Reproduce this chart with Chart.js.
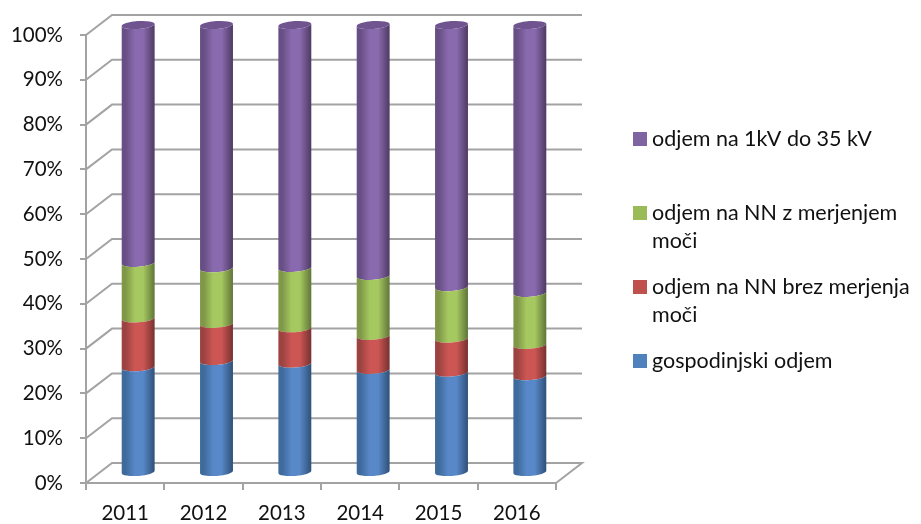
<!DOCTYPE html>
<html><head><meta charset="utf-8">
<style>html,body{margin:0;padding:0;background:#fff}canvas{display:block}</style>
<script src="https://cdn.jsdelivr.net/npm/chart.js@4/dist/chart.umd.min.js"></script>
</head><body><canvas id="c" width="921" height="524"></canvas>
<script>
const years = ['2011','2012','2013','2014','2015','2016'];
const gospodinjski = [23.6,25.0,24.4,23.0,22.4,21.6];
const brezMerjenja = [10.9,8.3,7.9,7.6,7.6,7.0];
const zMerjenjem = [12.4,12.4,13.5,13.4,11.5,11.6];
const naVisoki = [53.1,54.3,54.2,56.0,58.5,59.8];
const seriesNames = ['gospodinjski odjem','odjem na NN brez merjenja moči','odjem na NN z merjenjem moči','odjem na 1kV do 35 kV'];
const legendOrder = [
  {i:3, y:139, lines:['odjem na 1kV do 35 kV']},
  {i:2, y:213, lines:['odjem na NN z merjenjem','moči']},
  {i:1, y:287, lines:['odjem na NN brez merjenja','moči']},
  {i:0, y:361, lines:['gospodinjski odjem']}
];
const swatch = ['#4F81BD','#C0504D','#9BBB59','#8064A2'];
const shades = [
  {edgeL:'#3f6a9c',mid:'#5888c8',edgeR:'#2f5078'},
  {edgeL:'#9c4341',mid:'#cc5653',edgeR:'#763130'},
  {edgeL:'#7f9848',mid:'#a6c860',edgeR:'#5f7537'},
  {edgeL:'#674f85',mid:'#8a6aae',edgeR:'#4d3a63'}
];
const capColor = '#6f5490';
const gridColor = '#a3a3a3';
const depth = {x:26, y:-20};
const font = 'Lato, Carlito, sans-serif';

function segPath(ctx,cx,yTop,yBase,rx,ry,rot){
  ctx.beginPath();
  ctx.ellipse(cx,yTop,rx,ry,rot,Math.PI,0,true);
  ctx.ellipse(cx,yBase,rx,ry,rot,0,Math.PI,false);
  ctx.closePath();
}
const scene = {
  id:'scene',
  beforeDatasetsDraw(chart){
    const {ctx,scales:{x,y}} = chart;
    const l=x.left,r=x.right;
    ctx.save();
    ctx.strokeStyle=gridColor;ctx.lineWidth=2;ctx.lineCap='butt';
    y.ticks.forEach(t=>{
      const p=y.getPixelForValue(t.value);
      ctx.beginPath();
      ctx.moveTo(l,p);ctx.lineTo(l+depth.x,p+depth.y);ctx.lineTo(r+depth.x,p+depth.y);
      if(t.value===0){ctx.lineTo(r,p);}
      ctx.stroke();
    });
    ctx.restore();
  },
  beforeDatasetDraw(chart,args){
    const {ctx} = chart, s=shades[args.index], meta=args.meta;
    const rot=-4*Math.PI/180, ry=3.9;
    meta.data.forEach(el=>{
      const {x,y,base,width}=el.getProps(['x','y','base','width'],true);
      const cx=x+depth.x/2,t=y+depth.y/2,b=base+depth.y/2,rx=width/2;
      const g=ctx.createLinearGradient(cx-rx,0,cx+rx,0);
      g.addColorStop(0,s.edgeL);g.addColorStop(0.12,s.edgeL);
      g.addColorStop(0.4,s.mid);g.addColorStop(0.65,s.mid);
      g.addColorStop(1,s.edgeR);
      segPath(ctx,cx,t,b,rx,ry,rot);
      ctx.fillStyle=g;ctx.fill();
      if(args.index===shades.length-1){
        ctx.beginPath();ctx.ellipse(cx,t,rx,ry,rot,0,Math.PI*2);
        ctx.fillStyle=capColor;ctx.fill();
      }
    });
    return false;
  },
  afterDraw(chart){
    const {ctx} = chart;
    ctx.save();
    ctx.font='21.5px '+font;ctx.textBaseline='middle';ctx.textAlign='left';
    legendOrder.forEach(it=>{
      ctx.fillStyle=swatch[it.i];ctx.fillRect(633,it.y-7,14,14);
      ctx.fillStyle='#111';
      it.lines.forEach((ln,k)=>ctx.fillText(ln,652,it.y+k*28));
    });
    ctx.restore();
  }
};
const series=[gospodinjski,brezMerjenja,zMerjenjem,naVisoki];
new Chart(document.getElementById('c'),{
  type:'bar',
  data:{labels:years,datasets:series.map((d,i)=>({label:seriesNames[i],data:d,backgroundColor:swatch[i],barThickness:33,stack:'s'}))},
  options:{
    responsive:false,animation:false,
    layout:{padding:{left:0,right:365,top:35,bottom:0}},
    plugins:{legend:{display:false},tooltip:{enabled:false},title:{display:false}},
    scales:{
      x:{stacked:true,
        afterFit(s){s.height=41;},
        grid:{drawOnChartArea:false,drawTicks:true,tickLength:7,color:gridColor,lineWidth:2,offset:true},
        border:{color:gridColor,width:2},
        ticks:{color:'#111',font:{family:font,size:20.5},padding:11,maxRotation:0}
      },
      y:{stacked:true,min:0,max:100,
        afterFit(s){s.width=86;},
        grid:{drawOnChartArea:false,drawTicks:true,tickLength:6,color:gridColor,lineWidth:2},
        border:{color:gridColor,width:2},
        ticks:{stepSize:10,color:'#111',font:{family:font,size:20.5},padding:17,callback:v=>v+'%'}
      }
    }
  },
  plugins:[scene]
});
</script></body></html>
